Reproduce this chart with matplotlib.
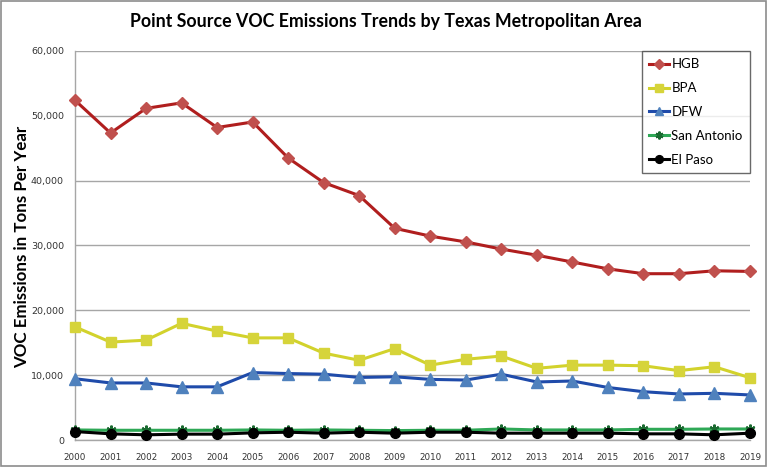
import matplotlib
matplotlib.use("Agg")
import matplotlib.pyplot as plt
from matplotlib.patches import Rectangle

years = list(range(2000, 2020))
hgb = [52400, 47350, 51150, 52000, 48200, 49050, 43500, 39700, 37700, 32650,
       31450, 30550, 29450, 28500, 27450, 26400, 25650, 25650, 26100, 26000]
bpa = [17450, 15100, 15400, 18000, 16800, 15750, 15750, 13400, 12300, 14100,
       11550, 12450, 12950, 11050, 11550, 11550, 11450, 10700, 11300, 9600]
dfw = [9450, 8800, 8800, 8200, 8200, 10400, 10250, 10150, 9650, 9750,
       9350, 9250, 10150, 8950, 9100, 8100, 7450, 7100, 7200, 6950]
san_antonio = [1550, 1500, 1500, 1500, 1500, 1550, 1500, 1550, 1500, 1450,
               1500, 1500, 1700, 1550, 1550, 1550, 1650, 1650, 1700, 1700]
el_paso = [1300, 950, 800, 900, 900, 1100, 1200, 1050, 1200, 1050,
           1200, 1200, 1050, 1050, 1050, 1050, 950, 950, 800, 1050]
series_names = ["HGB", "BPA", "DFW", "San Antonio", "El Paso"]
y_ticks = [0, 10000, 20000, 30000, 40000, 50000, 60000]

fig = plt.figure(figsize=(7.68, 4.67), dpi=100)
fig.patch.set_facecolor("white")
fig.add_artist(Rectangle((0.0015, 0.002), 0.996, 0.995, transform=fig.transFigure,
                         fill=False, edgecolor="#8c8c8c", linewidth=1.2))

ax = fig.add_axes([75/768, 1-440/467, 675/768, 389/467])

styles = [
    dict(color="#B01E1E", marker="D", mfc="#C0504D", mec="#C0504D", ms=6),
    dict(color="#D2D22C", marker="s", mfc="#D6D43A", mec="#D6D43A", ms=7.5),
    dict(color="#1F4BAA", marker="^", mfc="#4F81BD", mec="#4F81BD", ms=8),
    dict(color="#2EA856", marker=(6, 2, 0), mfc="#1a7a3a", mec="#1a6a30", ms=7, mew=1.5),
    dict(color="#000000", marker="o", mfc="#000000", mec="#000000", ms=7),
]
data = [hgb, bpa, dfw, san_antonio, el_paso]
for i, (name, vals, st) in enumerate(zip(series_names, data, styles)):
    ax.plot(years, vals, lw=2.2, label=name, zorder=3 + i, clip_on=False, **st)

ax.set_xlim(2000, 2019)
ax.set_ylim(0, 60000)
ax.set_yticks(y_ticks)
ax.set_yticklabels([f"{v:,}" for v in y_ticks])
ax.set_xticks(years)
ax.set_xticklabels([str(y) for y in years])
ax.tick_params(axis="y", length=0, labelsize=6.8, pad=8, labelcolor="#333333")
ax.tick_params(axis="x", length=0, labelsize=6.3, pad=9, labelcolor="#333333")
ax.grid(axis="y", color="#a6a6a6", lw=1)
ax.set_axisbelow(True)
for s in ["top", "right"]:
    ax.spines[s].set_visible(False)
for s in ["left", "bottom"]:
    ax.spines[s].set_color("#a6a6a6")
    ax.spines[s].set_linewidth(1)

ax.set_ylabel("VOC Emissions in Tons Per Year", fontsize=12.2, fontweight="bold",
              family="Lato")
ax.yaxis.set_label_coords(-0.067, 0.497)
fig.text(0.502, 0.955, "Point Source VOC Emissions Trends by Texas Metropolitan Area",
         ha="center", va="center", fontsize=12.8, fontweight="bold", family="Lato")

leg = ax.legend(loc="upper right", bbox_to_anchor=(1.0, 1.0), frameon=True, fancybox=False,
                edgecolor="#444444", prop={"family": "Lato", "size": 9.5},
                handlelength=1.5, handletextpad=0.2, labelspacing=0.9,
                borderpad=0.55, borderaxespad=0, markerscale=0.8)
leg.get_frame().set_linewidth(1)
leg.set_zorder(20)

fig.savefig("out.png", dpi=100, facecolor="white")
